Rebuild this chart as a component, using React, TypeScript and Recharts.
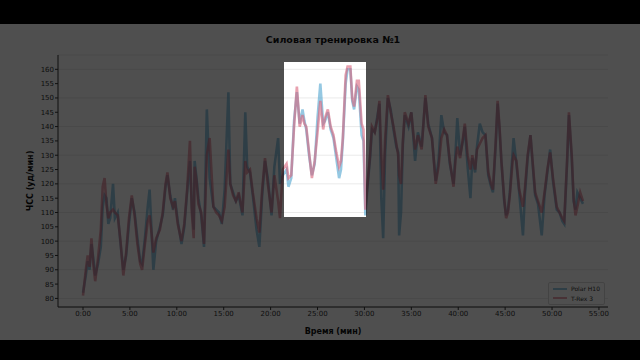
import React from 'react';
import { LineChart, Line, XAxis, YAxis, CartesianGrid } from 'recharts';

// time in minutes, heart rate in bpm
const minutes = [
  0, 0.3, 0.5, 0.7, 0.9, 1.1, 1.3, 1.6, 1.9, 2.1, 2.3, 2.5, 2.7, 2.9, 3.2, 3.4, 3.7, 4.0, 4.3, 4.6,
  4.9, 5.2, 5.5, 5.8, 6.1, 6.3, 6.6, 6.9, 7.1, 7.3, 7.5, 7.8, 8.2, 8.5, 8.8, 9.0, 9.3, 9.6, 9.8, 10.1,
  10.5, 10.8, 11.1, 11.4, 11.6, 11.8, 11.9, 12.1, 12.3, 12.6, 12.9, 13.2, 13.5, 13.9, 14.2, 14.5, 14.8, 15.1, 15.5, 15.7,
  16.0, 16.3, 16.6, 17.0, 17.3, 17.5, 17.8, 18.1, 18.5, 18.8, 19.1, 19.4, 19.7, 20.1, 20.4, 20.8, 21.0, 21.3, 21.7, 21.9,
  22.2, 22.5, 22.8, 23.1, 23.4, 23.6, 23.8, 24.1, 24.4, 24.7, 25.0, 25.3, 25.6, 25.8, 26.1, 26.4, 26.7, 27.0, 27.3, 27.5,
  27.7, 28.0, 28.2, 28.5, 28.7, 28.9, 29.2, 29.4, 29.7, 29.9, 30.1, 30.3, 30.6, 30.8, 31.1, 31.4, 31.6, 31.8, 32.0, 32.2,
  32.5, 32.8, 33.1, 33.4, 33.6, 33.7, 33.9, 34.1, 34.3, 34.7, 35.0, 35.2, 35.4, 35.7, 36.1, 36.5, 36.8, 37.2, 37.6, 37.9,
  38.2, 38.5, 38.8, 39.1, 39.5, 39.7, 39.9, 40.2, 40.5, 40.7, 41.0, 41.3, 41.5, 41.8, 42.0, 42.3, 42.6, 42.9, 43.2, 43.5,
  43.7, 44.0, 44.2, 44.4, 44.6, 44.9, 45.1, 45.3, 45.5, 45.8, 45.9, 46.2, 46.5, 46.9, 47.1, 47.4, 47.7, 48.0, 48.2, 48.5,
  48.9, 49.2, 49.5, 49.8, 50.1, 50.5, 50.8, 51.1, 51.3, 51.6, 51.8, 52.1, 52.3, 52.5, 52.7, 53.0, 53.3,
];

const polarH10 = [
  82, 88, 93, 90, 99, 94, 88, 92, 98, 112, 116, 115, 106, 108, 120, 108, 110, 99, 90, 95,
  106, 115, 110, 101, 93, 92, 101, 112, 118, 104, 90, 100, 105, 109, 119, 123, 116, 111, 115, 107,
  99, 105, 117, 128, 112, 104, 128, 122, 115, 109, 98, 146, 122, 112, 111, 110, 106, 118, 152, 120,
  117, 114, 116, 109, 145, 126, 124, 116, 104, 98, 116, 128, 122, 109, 126, 136, 120, 123, 125, 119,
  122, 142, 152, 141, 146, 142, 139, 130, 123, 127, 143, 155, 141, 142, 145, 139, 136, 129, 122, 125,
  135, 155, 160, 160, 149, 146, 154, 153, 137, 135, 109, 118, 129, 139, 138, 144, 148, 115, 101, 130,
  150, 146, 139, 133, 131, 102, 110, 134, 144, 140, 145, 137, 128, 138, 133, 150, 141, 136, 121, 128,
  144, 138, 137, 127, 120, 130, 143, 130, 135, 140, 126, 115, 129, 124, 133, 141, 138, 137, 123, 119,
  117, 134, 148, 139, 128, 114, 109, 111, 117, 131, 136, 127, 117, 102, 116, 129, 137, 124, 116, 113,
  102, 116, 124, 132, 121, 111, 110, 107, 106, 127, 144, 129, 114, 111, 117, 115, 113,
];

const trex3 = [
  81, 90, 95, 91, 101, 92, 86, 94, 104, 119, 122, 113, 108, 110, 111, 110, 109, 100, 88, 96,
  108, 116, 109, 99, 92, 90, 99, 107, 109, 103, 96, 101, 104, 110, 120, 124, 115, 112, 114, 106,
  100, 106, 118, 135, 110, 101, 126, 121, 113, 110, 99, 130, 136, 112, 110, 109, 107, 112, 132, 120,
  116, 114, 117, 110, 128, 124, 125, 117, 108, 103, 118, 129, 120, 110, 123, 114, 108, 125, 127, 122,
  123, 140, 154, 140, 144, 141, 140, 131, 122, 128, 138, 149, 139, 143, 146, 140, 137, 131, 126, 128,
  136, 158, 161, 161, 150, 147, 156, 156, 141, 139, 111, 119, 130, 140, 138, 143, 149, 130, 118, 135,
  151, 145, 140, 134, 130, 123, 120, 135, 145, 141, 145, 138, 132, 137, 132, 151, 140, 136, 120, 126,
  136, 139, 137, 128, 119, 128, 133, 129, 136, 141, 130, 125, 130, 125, 132, 134, 136, 137, 124, 120,
  118, 135, 149, 140, 128, 115, 108, 110, 116, 128, 130, 128, 118, 112, 118, 130, 137, 125, 117, 114,
  110, 117, 125, 131, 122, 112, 110, 108, 107, 128, 145, 130, 115, 109, 112, 117, 114,
];

const xTicks = [0, 5, 10, 15, 20, 25, 30, 35, 40, 45, 50, 55];
const yTicks = [80, 85, 90, 95, 100, 105, 110, 115, 120, 125, 130, 135, 140, 145, 150, 155, 160];

const seriesNames = ['Polar H10', 'T-Rex 3'];
const polarColor = '#4fa3cf';
const trexColor = '#d9637a';

const chartData = minutes.map((t, i) => ({ t, polar: polarH10[i], trex: trex3[i] }));

// plot geometry (matches chart margins below)
const X_DOMAIN: [number, number] = [-2.665, 55.965];
const Y_DOMAIN: [number, number] = [77, 165];
const CHART_TOP = 24;
const PLOT_LEFT = 58;
const PLOT_TOP = 31;
const PLOT_W = 550;
const PLOT_H = 252;

const sx = (t: number) => PLOT_LEFT + ((t - X_DOMAIN[0]) / (X_DOMAIN[1] - X_DOMAIN[0])) * PLOT_W;
const sy = (v: number) => CHART_TOP + PLOT_TOP + ((Y_DOMAIN[1] - v) / (Y_DOMAIN[1] - Y_DOMAIN[0])) * PLOT_H;

// highlighted window
const spot = { t0: 21.45, t1: 30.2, v0: 108.3, v1: 162.5 };

const font = '"DejaVu Sans", sans-serif';

const LegendBox = () => (
  <div
    style={{
      position: 'absolute',
      right: 640 - 605,
      top: 258,
      background: '#fff',
      border: '1px solid #d8d8d8',
      borderRadius: 2,
      padding: '1px 4px',
      fontFamily: font,
      fontSize: 6,
      color: '#333',
      lineHeight: '9.5px',
    }}
  >
    {seriesNames.map((name, i) => (
      <div key={name} style={{ display: 'flex', alignItems: 'center' }}>
        <span
          style={{
            display: 'inline-block',
            width: 14,
            height: 2,
            background: i === 0 ? polarColor : trexColor,
            opacity: 0.6,
            marginRight: 4,
          }}
        />
        {name}
      </div>
    ))}
  </div>
);

export default function App() {
  return (
    <div
      style={{
        position: 'fixed',
        left: 0,
        top: 0,
        width: 640,
        height: 360,
        background: '#000',
        overflow: 'hidden',
      }}
    >
      <div style={{ position: 'absolute', left: 0, top: CHART_TOP, width: 640, height: 316, background: '#fff' }}>
        <div
          style={{
            position: 'absolute',
            left: PLOT_LEFT,
            width: PLOT_W,
            top: 10,
            textAlign: 'center',
            fontFamily: font,
            fontWeight: 'bold',
            fontSize: 9.5,
            color: '#111',
          }}
        >
          Силовая тренировка №1
        </div>
        <LineChart
          width={640}
          height={316}
          data={chartData}
          margin={{ top: PLOT_TOP, right: 32, left: 8, bottom: 0 }}
        >
          <CartesianGrid vertical={false} stroke="#e4e4e4" strokeWidth={0.8} />
          <XAxis
            dataKey="t"
            type="number"
            domain={X_DOMAIN}
            allowDataOverflow
            ticks={xTicks}
            tickFormatter={(m) => `${m}:00`}
            height={33}
            tickSize={3}
            tickMargin={1}
            stroke="#333"
            tick={{ fill: '#333', fontSize: 7, fontFamily: font }}
            label={{
              value: 'Время (мин)',
              position: 'insideBottom',
              offset: 6,
              style: { fontFamily: font, fontSize: 8, fontWeight: 'bold', fill: '#111' },
            }}
          />
          <YAxis
            type="number"
            domain={Y_DOMAIN}
            allowDataOverflow
            ticks={yTicks}
            width={50}
            tickSize={3}
            tickMargin={1}
            stroke="#333"
            tick={{ fill: '#333', fontSize: 7, fontFamily: font }}
            label={{
              value: 'ЧСС (уд/мин)',
              angle: -90,
              position: 'insideLeft',
              offset: 22,
              style: { textAnchor: 'middle', fontFamily: font, fontSize: 8, fontWeight: 'bold', fill: '#111' },
            }}
          />
          <Line
            type="linear"
            dataKey="polar"
            name={seriesNames[0]}
            stroke={polarColor}
            strokeOpacity={0.6}
            strokeWidth={2.6}
            dot={false}
            isAnimationActive={false}
          />
          <Line
            type="linear"
            dataKey="trex"
            name={seriesNames[1]}
            stroke={trexColor}
            strokeOpacity={0.6}
            strokeWidth={2.6}
            dot={false}
            isAnimationActive={false}
          />
        </LineChart>
        <LegendBox />
      </div>
      {/* dimmed overlay with a clear window */}
      <div
        style={{
          position: 'absolute',
          left: sx(spot.t0),
          top: sy(spot.v1),
          width: sx(spot.t1) - sx(spot.t0),
          height: sy(spot.v0) - sy(spot.v1),
          boxShadow: '0 0 0 2000px rgba(0,0,0,0.69)',
          pointerEvents: 'none',
        }}
      />
    </div>
  );
}
